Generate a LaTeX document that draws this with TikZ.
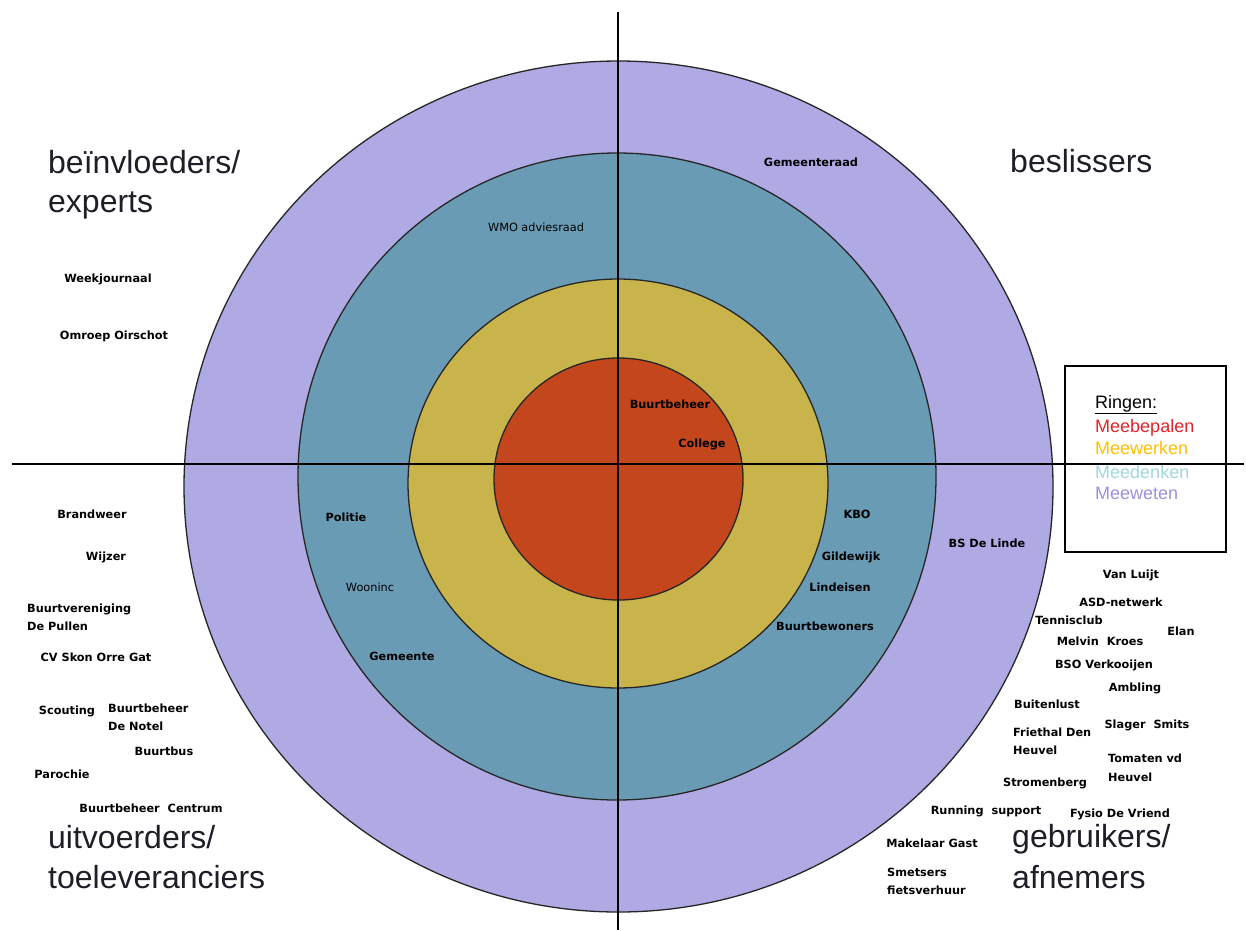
\documentclass[tikz,border=0pt]{standalone}
\usepackage{fontspec}
\setmainfont{Liberation Sans}
\newfontfamily\lblfont{DejaVu Sans}
\definecolor{ringouter}{RGB}{175,169,228}
\definecolor{ringblue}{RGB}{106,155,181}
\definecolor{ringyellow}{RGB}{200,180,74}
\definecolor{ringred}{RGB}{196,70,28}
\definecolor{legred}{RGB}{226,36,40}
\definecolor{legyellow}{RGB}{255,192,0}
\definecolor{legcyan}{RGB}{160,216,224}
\definecolor{legpurple}{RGB}{159,143,226}
\definecolor{bigtext}{RGB}{30,30,40}
\begin{document}
\begin{tikzpicture}[x=1pt,y=-1pt,
  ring/.style={draw=black!85,line width=1.3pt},
  axisline/.style={draw=black,line width=2pt},
  lbl/.style={inner sep=0pt,anchor=base,font=\lblfont\bfseries\fontsize{11.3}{14}\selectfont,text=black},
  lbll/.style={lbl,anchor=base west},
  lblr/.style={lbl,font=\lblfont\fontsize{11.3}{14}\selectfont},
  big/.style={inner sep=0pt,anchor=base west,font=\fontsize{32}{40}\selectfont,text=bigtext},
  leg/.style={inner sep=0pt,anchor=base west,font=\fontsize{18}{22}\selectfont}]
\useasboundingbox (0,0) rectangle (1246,930);
\fill[white] (0,0) rectangle (1246,930);
% rings
\path[ring,fill=ringouter] (618.5,486.5) ellipse [x radius=434.5pt, y radius=425.5pt];
\path[ring,fill=ringblue] (617,476.5) ellipse [x radius=319pt, y radius=323.5pt];
\path[ring,fill=ringyellow] (618,483.5) ellipse [x radius=210pt, y radius=204.5pt];
\path[ring,fill=ringred] (618.5,479) ellipse [x radius=124.5pt, y radius=121pt];
% axes
\coordinate (vtop) at (618,12);
\coordinate (vbot) at (618,930);
\coordinate (hleft) at (12,464);
\coordinate (hright) at (1244,464);
\draw[axisline] (vtop) -- (vbot);
\draw[axisline] (hleft) -- (hright);
% legend
\node[draw=black,line width=1.8pt,minimum width=161pt,minimum height=186pt,inner sep=0pt] (legend) at (1145.5,459) {};
\node[leg,text=black] (legtitle) at (1095,408) {\underline{Ringen:}};
\node[leg,text=legred] (leg1) at (1095,432) {Meebepalen};
\node[leg,text=legyellow] (leg2) at (1095,454) {Meewerken};
\node[leg,text=legcyan] (leg3) at (1095,478) {Meedenken};
\node[leg,text=legpurple] (leg4) at (1095,499) {Meeweten};
% quadrant titles
\node[big] (q1a) at (48,173) {beïnvloeders/};
\node[big] (q1b) at (48,212) {experts};
\node[big] (q2) at (1010,172) {beslissers};
\node[big] (q3a) at (48,848) {uitvoerders/};
\node[big] (q3b) at (48,888) {toeleveranciers};
\node[big] (q4a) at (1012,847) {gebruikers/};
\node[big] (q4b) at (1012,888) {afnemers};
% top-left
\node[lbl] (weekj) at (108,282) {Weekjournaal};
\node[lbl] (omroep) at (114,339) {Omroep Oirschot};
\node[lblr] (wmo) at (536,231) {WMO adviesraad};
% top-right
\node[lbl] (gemraad) at (811,166) {Gemeenteraad};
\node[lbl] (buurtbeh) at (670,408) {Buurtbeheer};
\node[lbl] (college) at (702,447) {College};
% bottom-left outside
\node[lbl] (brandweer) at (92,518) {Brandweer};
\node[lbl] (wijzer) at (106,560) {Wijzer};
\node[lbll] (buurtver) at (27,612) {Buurtvereniging};
\node[lbll] (pullen) at (27,630) {De Pullen};
\node[lbl] (cvskon) at (96,661) {CV Skon Orre Gat};
\node[lbl] (scouting) at (67,714) {Scouting};
\node[lbll] (bbnotel) at (108,712) {Buurtbeheer};
\node[lbll] (notel) at (108,730) {De Notel};
\node[lbl] (buurtbus) at (164,755) {Buurtbus};
\node[lbl] (parochie) at (62,778) {Parochie};
\node[lbl] (bbcentrum) at (151,812) {Buurtbeheer\hspace{4pt} Centrum};
% bottom-left inside
\node[lbl] (politie) at (346,521) {Politie};
\node[lblr] (wooninc) at (370,591) {Wooninc};
\node[lbl] (gemeente) at (402,660) {Gemeente};
% bottom-right inside
\node[lbl] (kbo) at (857,518) {KBO};
\node[lbl] (gildewijk) at (851,560) {Gildewijk};
\node[lbl] (lindeisen) at (840,591) {Lindeisen};
\node[lbl] (buurtbew) at (825,630) {Buurtbewoners};
\node[lbl] (bslinde) at (987,547) {BS De Linde};
% bottom-right outside
\node[lbl] (vanluijt) at (1131,578) {Van Luijt};
\node[lbl] (asd) at (1121,606) {ASD-netwerk};
\node[lbl] (tennis) at (1069,624) {Tennisclub};
\node[lbl] (elan) at (1181,635) {Elan};
\node[lbl] (melvin) at (1100,645) {Melvin\hspace{4pt} Kroes};
\node[lbl] (bso) at (1104,668) {BSO Verkooijen};
\node[lbl] (ambling) at (1135,691) {Ambling};
\node[lbl] (buitenlust) at (1047,708) {Buitenlust};
\node[lbll] (friet1) at (1013,736) {Friethal Den};
\node[lbll] (friet2) at (1013,754) {Heuvel};
\node[lbl] (slager) at (1147,728) {Slager\hspace{4pt} Smits};
\node[lbll] (tomaten1) at (1108,762) {Tomaten vd};
\node[lbll] (tomaten2) at (1108,781) {Heuvel};
\node[lbl] (stromen) at (1045,786) {Stromenberg};
\node[lbl] (running) at (986,814) {Running\hspace{4pt} support};
\node[lbl] (fysio) at (1120,817) {Fysio De Vriend};
\node[lbl] (makelaar) at (932,847) {Makelaar Gast};
\node[lbll] (smet1) at (887,876) {Smetsers};
\node[lbll] (smet2) at (887,894) {fietsverhuur};
\end{tikzpicture}
\end{document}
